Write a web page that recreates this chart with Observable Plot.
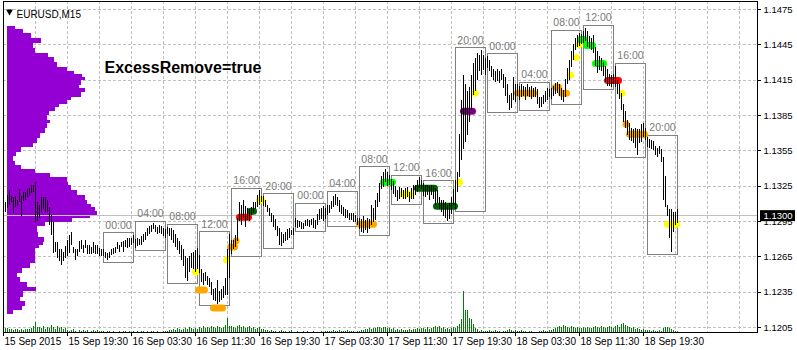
<!DOCTYPE html>
<html><head><meta charset="utf-8">
<script src="https://cdn.jsdelivr.net/npm/d3@7"></script>
<script src="https://cdn.jsdelivr.net/npm/@observablehq/plot@0.6"></script>
<style>body{margin:0;background:#fff} svg{display:block}</style>
</head><body><div id="chart"></div>
<script>
// ---------- DATA ----------
const symbolTitle = "EURUSD,M15";
const noteText = "ExcessRemove=true";
const xTickLabels = ["15 Sep 2015","15 Sep 19:30","16 Sep 03:30","16 Sep 11:30","16 Sep 19:30","17 Sep 03:30","17 Sep 11:30","17 Sep 19:30","18 Sep 03:30","18 Sep 11:30","18 Sep 19:30"];
const priceTicks = [1.1205,1.1235,1.1265,1.1295,1.1325,1.1355,1.1385,1.1415,1.1445,1.1475];
const lastPrice = 1.1300;
const sessionLabels = ["00:00","04:00","08:00","12:00","16:00","20:00"];
const firstSessionBar = 50, barsPerSession = 16, sessionCount = 18;

const barHigh = [
1.1313,1.1311,1.1317,1.1321,1.1316,1.1315,1.1316,1.1313,1.1322,1.1316,1.1320,1.1320,1.1322,1.1323,1.1326,1.1326,1.1328,1.1311,1.1309,1.1315,
1.1315,1.1315,1.1313,1.1307,1.1300,1.1294,1.1277,1.1277,1.1271,1.1271,1.1269,1.1274,1.1279,1.1283,1.1286,1.1273,1.1271,1.1271,1.1278,1.1279,
1.1275,1.1279,1.1275,1.1275,1.1273,1.1277,1.1275,1.1275,1.1272,1.1271,
1.1271,1.1269,1.1268,1.1269,1.1271,1.1272,1.1273,1.1277,1.1275,1.1277,1.1278,1.1279,1.1281,1.1281,1.1281,1.1283,
1.1280,1.1281,1.1280,1.1282,1.1284,1.1286,1.1289,1.1291,1.1292,1.1293,1.1292,1.1290,1.1292,1.1291,1.1289,1.1288,
1.1290,1.1289,1.1289,1.1287,1.1284,1.1281,1.1278,1.1275,1.1271,1.1265,1.1264,1.1265,1.1268,1.1269,1.1270,1.1272,
1.1266,1.1254,1.1251,1.1252,1.1248,1.1247,1.1243,1.1237,1.1238,1.1245,1.1236,1.1237,1.1240,1.1247,1.1271,1.1284,
1.1279,1.1279,1.1283,1.1298,1.1311,1.1309,1.1313,1.1308,1.1306,1.1305,1.1307,1.1311,1.1311,1.1317,1.1321,1.1316,
1.1316,1.1313,1.1309,1.1306,1.1302,1.1300,1.1297,1.1291,1.1289,1.1286,1.1284,1.1286,1.1288,1.1289,1.1287,1.1289,
1.1298,1.1296,1.1295,1.1294,1.1293,1.1296,1.1297,1.1296,1.1297,1.1298,1.1296,1.1301,1.1305,1.1306,1.1308,1.1306,
1.1309,1.1309,1.1312,1.1316,1.1318,1.1315,1.1313,1.1309,1.1307,1.1305,1.1304,1.1302,1.1302,1.1302,1.1300,1.1298,
1.1298,1.1297,1.1299,1.1296,1.1298,1.1297,1.1309,1.1306,1.1313,1.1319,1.1327,1.1333,1.1337,1.1339,1.1337,1.1334,
1.1331,1.1329,1.1325,1.1321,1.1324,1.1323,1.1321,1.1323,1.1324,1.1320,1.1323,1.1326,1.1326,1.1330,1.1332,1.1330,
1.1327,1.1326,1.1326,1.1325,1.1326,1.1325,1.1323,1.1321,1.1315,1.1313,1.1313,1.1311,1.1309,1.1310,1.1315,1.1322,
1.1330,1.1337,1.1369,1.1398,1.1419,1.1411,1.1405,1.1409,1.1419,1.1429,1.1433,1.1438,1.1436,1.1440,1.1436,1.1433,
1.1435,1.1432,1.1427,1.1424,1.1422,1.1424,1.1422,1.1424,1.1420,1.1417,1.1411,1.1402,1.1404,1.1417,1.1411,1.1411,
1.1410,1.1411,1.1410,1.1409,1.1411,1.1409,1.1410,1.1408,1.1409,1.1407,1.1400,1.1400,1.1402,1.1405,1.1408,1.1407,
1.1408,1.1410,1.1412,1.1413,1.1411,1.1408,1.1406,1.1416,1.1425,1.1432,1.1439,1.1445,1.1450,1.1453,1.1455,1.1454,
1.1456,1.1459,1.1456,1.1452,1.1450,1.1453,1.1443,1.1439,1.1435,1.1433,1.1430,1.1427,1.1424,1.1420,1.1419,1.1420,
1.1427,1.1415,1.1411,1.1404,1.1394,1.1388,1.1381,1.1378,1.1374,1.1373,1.1374,1.1373,1.1373,1.1377,1.1378,1.1374,
1.1366,1.1365,1.1364,1.1363,1.1359,1.1357,1.1359,1.1356,1.1349,1.1333,1.1309,1.1305,1.1305,1.1303,1.1303,1.1305];

const barLow = [
1.1302,1.1303,1.1306,1.1309,1.1311,1.1302,1.1307,1.1308,1.1311,1.1299,1.1312,1.1313,1.1315,1.1317,1.1319,1.1320,1.1294,1.1295,1.1298,1.1303,
1.1305,1.1303,1.1303,1.1292,1.1283,1.1268,1.1269,1.1264,1.1261,1.1258,1.1261,1.1264,1.1265,1.1268,1.1275,1.1268,1.1262,1.1265,1.1269,1.1271,
1.1268,1.1272,1.1267,1.1267,1.1267,1.1268,1.1267,1.1267,1.1265,1.1265,
1.1265,1.1264,1.1262,1.1264,1.1266,1.1267,1.1268,1.1271,1.1269,1.1273,1.1269,1.1273,1.1272,1.1273,1.1275,1.1276,
1.1272,1.1274,1.1275,1.1275,1.1277,1.1279,1.1282,1.1284,1.1286,1.1288,1.1286,1.1284,1.1285,1.1284,1.1282,1.1281,
1.1284,1.1282,1.1279,1.1276,1.1273,1.1270,1.1267,1.1262,1.1257,1.1247,1.1244,1.1252,1.1255,1.1254,1.1252,1.1254,
1.1251,1.1243,1.1241,1.1244,1.1241,1.1239,1.1232,1.1228,1.1227,1.1225,1.1226,1.1228,1.1230,1.1232,1.1232,1.1247,
1.1267,1.1271,1.1273,1.1278,1.1295,1.1292,1.1298,1.1290,1.1296,1.1295,1.1300,1.1302,1.1305,1.1307,1.1309,1.1311,
1.1308,1.1307,1.1303,1.1299,1.1294,1.1290,1.1287,1.1282,1.1275,1.1274,1.1276,1.1278,1.1279,1.1281,1.1283,1.1283,
1.1290,1.1289,1.1290,1.1288,1.1288,1.1291,1.1291,1.1290,1.1292,1.1289,1.1288,1.1292,1.1296,1.1297,1.1295,1.1297,
1.1300,1.1302,1.1305,1.1307,1.1309,1.1308,1.1303,1.1301,1.1299,1.1298,1.1298,1.1296,1.1296,1.1294,1.1294,1.1292,
1.1288,1.1286,1.1285,1.1287,1.1285,1.1288,1.1292,1.1294,1.1296,1.1307,1.1311,1.1322,1.1324,1.1328,1.1325,1.1326,
1.1321,1.1318,1.1315,1.1312,1.1314,1.1315,1.1314,1.1314,1.1315,1.1311,1.1314,1.1314,1.1317,1.1320,1.1323,1.1322,
1.1316,1.1315,1.1317,1.1313,1.1317,1.1314,1.1309,1.1310,1.1305,1.1303,1.1299,1.1298,1.1295,1.1297,1.1301,1.1309,
1.1305,1.1320,1.1332,1.1347,1.1356,1.1362,1.1368,1.1379,1.1389,1.1402,1.1405,1.1415,1.1422,1.1419,1.1423,1.1419,
1.1425,1.1422,1.1417,1.1415,1.1413,1.1414,1.1412,1.1415,1.1408,1.1401,1.1395,1.1389,1.1391,1.1398,1.1396,1.1401,
1.1398,1.1400,1.1401,1.1398,1.1401,1.1400,1.1399,1.1400,1.1400,1.1394,1.1391,1.1392,1.1394,1.1396,1.1398,1.1400,
1.1399,1.1401,1.1403,1.1404,1.1401,1.1398,1.1396,1.1400,1.1411,1.1415,1.1426,1.1432,1.1440,1.1443,1.1444,1.1445,
1.1446,1.1448,1.1443,1.1442,1.1440,1.1438,1.1427,1.1421,1.1423,1.1422,1.1418,1.1413,1.1410,1.1410,1.1409,1.1411,
1.1409,1.1403,1.1399,1.1389,1.1379,1.1374,1.1368,1.1364,1.1363,1.1361,1.1357,1.1351,1.1361,1.1362,1.1366,1.1364,
1.1358,1.1357,1.1356,1.1355,1.1351,1.1349,1.1352,1.1345,1.1313,1.1307,1.1299,1.1281,1.1269,1.1286,1.1292,1.1293];

const volume = [
5,4,4,3,3,2,3,3,2,3,2,3,3,3,4,6,10,5,5,4,6,3,5,4,7,5,3,6,4,5,3,4,2,1,2,3,1,0,2,1,2,1,2,0,1,2,1,2,1,1,
1,0,1,1,0,1,0,0,1,0,1,1,0,1,0,1,
0,1,0,1,1,0,1,0,1,1,0,1,0,0,1,1,
1,2,2,3,2,4,3,2,3,4,3,5,4,3,4,3,
5,4,6,4,5,4,6,5,4,6,5,4,5,7,14,6,
6,5,4,6,7,5,6,4,5,6,4,5,3,4,5,3,
3,2,2,1,2,1,1,0,1,2,1,1,0,1,2,0,
0,1,0,0,1,0,1,0,0,1,0,0,0,1,0,1,
1,1,1,2,1,1,2,1,1,1,2,1,1,1,0,1,
1,2,2,3,3,4,3,4,4,5,5,4,5,5,4,4,
3,4,2,3,2,3,2,2,2,3,2,3,3,4,3,4,
4,3,5,3,4,5,6,5,6,4,5,3,4,3,4,5,
4,6,8,13,41,22,22,14,13,8,4,3,1,2,1,1,
1,2,1,1,2,1,1,0,1,1,2,3,2,1,2,1,
1,2,1,1,0,1,1,0,0,0,1,1,2,1,1,2,
2,3,4,5,6,5,7,6,5,4,6,5,4,5,4,4,
5,4,5,4,4,5,6,5,4,6,5,4,5,6,5,4,
6,7,5,8,9,7,6,5,4,5,3,4,3,2,3,2,
2,2,1,2,1,1,2,1,4,5,5,4,3,2,1,1];

// volume profile rows (top price of each row) and lengths
const profileTop = [1.14606,1.14580,1.14547,1.14504,1.14462,1.14419,1.14377,1.14343,1.14301,1.14258,1.14225,1.14199,1.14174,1.14148,1.14106,1.14080,1.14047,1.14004,1.13979,1.13945,1.13919,1.13886,1.13852,1.13809,1.13784,1.13741,1.13699,1.13657,1.13614,1.13580,1.13538,1.13504,1.13462,1.13428,1.13394,1.13360,1.13326,1.13284,1.13258,1.13216,1.13174,1.13131,1.13097,1.13072,1.13038,1.13004,1.12979,1.12945,1.12911,1.12860,1.12818,1.12775,1.12750,1.12724,1.12597,1.12555,1.12513,1.12479,1.12436,1.12394,1.12352,1.12309,1.12267,1.12233,1.12199];
const profileBottom = 1.12165;
const profileVolume = [8,16,24,34,26,28,41,47,50,60,67,75,78,74,72,78,74,64,60,52,48,42,40,43,40,38,33,30,26,14,9,6,8,14,28,43,60,61,64,70,78,80,84,88,90,83,65,38,30,31,37,36,32,28,23,15,10,13,20,29,16,13,18,15,6];

// session profile markers
const markerColor = ["#FFFF00","#FFA500","#FFA500","#FFFF00","#FFA500","#FFA500","#FF0000","#006400","#FFFF00","#FFA500","#00FF00","#FFFF00","#006400","#006400","#FFFF00","#800080","#FFFF00","#FFA500","#FFA500","#FFA500","#FFFF00","#FFFF00","#FFFF00","#00FF00","#00FF00","#00FF00","#FF0000","#FFFF00","#FFA500","#FFA500","#FFFF00"];
const markerStart = [96.25,97.75,105.25,111.75,113.75,116.5,118.25,123.75,128.25,178.25,190.25,199.75,207.25,216.75,228.25,230.25,236,257.25,276.25,279.25,283.75,286.5,288,288.75,291.75,296.25,302.25,309.5,311.5,313.25,332.25];
const markerEnd   = [96.25,100.75,109.75,111.75,115.75,116.5,122.75,125.25,129.25,185.25,194.75,203.25,215.75,225.75,228.25,234.75,236,265.25,277.75,281.75,283.75,286.5,288,290.75,294.75,300.25,307.75,309.5,311.5,320.75,336.75];
const markerPrice = [1.12521,1.12369,1.12216,1.12623,1.12733,1.12784,1.12987,1.13038,1.13131,1.12928,1.13284,1.13182,1.13233,1.13080,1.13284,1.13886,1.14038,1.14038,1.14089,1.14038,1.14191,1.14343,1.14453,1.14496,1.14445,1.14292,1.14148,1.14038,1.13775,1.13691,1.12928];

// ---------- BUILD ----------
const W = 797, H = 350;
const pxPerPrice = 11780;
const yTop = 1.1475 + 8 / pxPerPrice;
const yBot = 1.1475 - 323 / pxPerPrice;
const px = 1 / pxPerPrice; // one pixel in price units

const bars = barHigh.map((h, i) => ({i, high: h, low: barLow[i], vol: volume[i]}));
const volToPrice = d3.scaleLinear([0, 1], [yBot, yBot + px]);

const sessions = d3.range(sessionCount).map(k => {
  const s = firstSessionBar + k * barsPerSession;
  const e = s + barsPerSession - 1;
  return {start: s, end: e,
    high: d3.max(barHigh.slice(s, e + 1)) + 0.0002,
    low: d3.min(barLow.slice(s, e + 1)) - 0.0002,
    label: sessionLabels[k % sessionLabels.length]};
});

const profile = profileTop.map((t, j) => ({top: t, bottom: j < profileTop.length - 1 ? profileTop[j + 1] : profileBottom, vol: profileVolume[j]}));
const markers = markerColor.map((c, j) => ({c, x1: markerStart[j], x2: markerEnd[j], y: markerPrice[j]}));
const xTicks = xTickLabels.map((l, k) => ({i: k * 32, label: l}));
const gridX = d3.range(0, 377, 16);

const font = "'Liberation Sans', Arial, sans-serif";
const chart = Plot.plot({
  width: W, height: H,
  marginLeft: 3, marginRight: 40, marginTop: 1, marginBottom: 18,
  x: {domain: [0, 377], axis: null},
  y: {domain: [yBot, yTop], axis: null},
  color: {type: "identity"},
  style: {fontFamily: font, fontSize: "10px", background: "white", overflow: "visible"},
  marks: [
    Plot.ruleX(gridX, {x: d => d, stroke: "#c0c0c0", strokeDasharray: "3,2", shapeRendering: "crispEdges"}),
    Plot.ruleY(priceTicks, {y: d => d, stroke: "#c0c0c0", strokeDasharray: "3,2", shapeRendering: "crispEdges"}),
    Plot.ruleX(bars.filter(d => d.vol > 0), {x: "i", y1: yBot, y2: d => volToPrice(d.vol), stroke: "#008000", shapeRendering: "crispEdges"}),
    Plot.rect(profile, {x1: 2, x2: d => 2 + d.vol / 2, y1: "bottom", y2: "top", fill: "#9400D3", shapeRendering: "crispEdges"}),
    Plot.ruleY([lastPrice], {y: d => d, stroke: "#c0c0c0", shapeRendering: "crispEdges"}),
    Plot.rect(sessions, {x1: "start", x2: "end", y1: "low", y2: "high", fill: "none", stroke: "#808080", shapeRendering: "crispEdges"}),
    Plot.text(sessions, {x: d => (d.start + d.end) / 2, y: "high", text: "label", dy: -8, fill: "#7a7a7a", fontSize: 10.5}),
    Plot.ruleY(markers, {x1: "x1", x2: "x2", y: "y", stroke: "c", strokeWidth: 7, strokeLinecap: "round"}),
    Plot.ruleX(bars, {x: "i", y1: "low", y2: "high", stroke: "black", shapeRendering: "crispEdges"}),
    Plot.frame({stroke: "black", shapeRendering: "crispEdges"}),
    // right price axis
    Plot.ruleY(priceTicks, {y: d => d, x1: 377, x2: 379, stroke: "black", shapeRendering: "crispEdges"}),
    Plot.text(priceTicks, {y: d => d, x: 377, text: d => d.toFixed(4), dx: 6, textAnchor: "start", fill: "black", fontSize: 9.5}),
    // bottom time axis
    Plot.ruleX(xTicks, {x: "i", y1: yBot, y2: yBot - 4 * px, stroke: "black", shapeRendering: "crispEdges"}),
    Plot.text(xTicks, {x: "i", y: yBot, text: "label", dy: 9, dx: 1, textAnchor: "start", fill: "black", fontSize: 10}),
    // last price box
    Plot.rect([lastPrice], {x1: 378.5, x2: 396, y1: d => d - 6 * px, y2: d => d + 5 * px, fill: "black"}),
    Plot.text([lastPrice], {x: 377, y: d => d, text: d => d.toFixed(4), dx: 6, textAnchor: "start", fill: "white", fontSize: 9.5}),
    // header
    Plot.dot([0], {frameAnchor: "top-left", dx: 6, dy: 10, symbol: "triangle", r: 2.6, rotate: 180, fill: "black"}),
    Plot.text([symbolTitle], {frameAnchor: "top-left", dx: 13, dy: 9.5, text: d => d, textAnchor: "start", fill: "black", fontSize: 10}),
    Plot.text([noteText], {frameAnchor: "top-left", dx: 101, dy: 60, text: d => d, textAnchor: "start", fill: "black", fontSize: 16, fontWeight: "bold"})
  ]
});
document.getElementById("chart").appendChild(chart);
</script>
</body></html>
